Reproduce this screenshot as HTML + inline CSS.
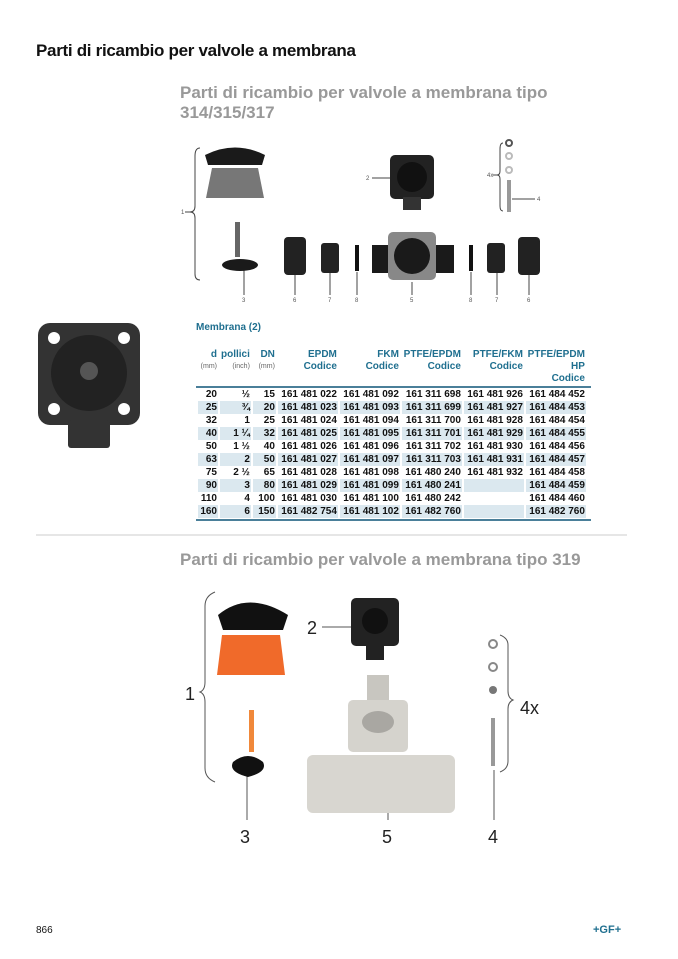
<!DOCTYPE html>
<html><head><meta charset="utf-8"><style>
body{margin:0;width:678px;height:959px;background:#fff;position:relative;overflow:hidden;font-family:"Liberation Sans",sans-serif}
.a{position:absolute;white-space:nowrap}
h1{position:absolute;left:36px;top:41px;margin:0;font-size:17px;letter-spacing:-0.3px;font-weight:bold;color:#111}
.sub{position:absolute;left:180px;margin:0;font-size:17px;font-weight:bold;color:#999;line-height:20px}
table{position:absolute;left:196px;top:349px;border-collapse:separate;border-spacing:2px 0;font-size:10px;font-weight:bold;color:#111}
td{height:13px;padding:0 1px;text-align:right;line-height:13px}
th{color:#1f6f8f;text-align:right;vertical-align:top;font-size:10px;line-height:12px;padding:0 1px 3px}
th small{display:block;color:#666;font-weight:normal;font-size:7px}
tr.s td{background:#dbe8ef}
.ln{position:absolute;left:196px;width:395px;height:2px;background:#4a7f99}
</style></head><body>
<h1>Parti di ricambio per valvole a membrana</h1>
<p class="sub" style="top:83px">Parti di ricambio per valvole a membrana tipo<br>314/315/317</p>
<div class="a" style="left:196px;top:322px;font-size:10px;font-weight:bold;color:#1f6f8f">Membrana (2)</div>

<svg class="a" style="left:0;top:0" width="678" height="959">
<g fill="none" stroke="#444" stroke-width="1">
<path d="M200 148 q-5 0 -5 8 v50 q0 6 -5 6 q5 0 5 6 v56 q0 6 5 6"/>
<line x1="185" y1="212" x2="190" y2="212"/>
<path d="M503 143 q-3 0 -3 6 v22 q0 4 -3 4 q3 0 3 4 v27 q0 5 3 5"/>
<line x1="493" y1="175" x2="497" y2="175"/>
<line x1="372" y1="178" x2="390" y2="178"/>
<line x1="512" y1="199" x2="535" y2="199"/>
<line x1="244" y1="270" x2="244" y2="295"/><line x1="295" y1="275" x2="295" y2="295"/>
<line x1="330" y1="273" x2="330" y2="295"/><line x1="357" y1="272" x2="357" y2="295"/>
<line x1="412" y1="282" x2="412" y2="295"/><line x1="471" y1="272" x2="471" y2="295"/>
<line x1="497" y1="273" x2="497" y2="295"/><line x1="529" y1="275" x2="529" y2="295"/>
</g>
<path d="M205 155 q30 -15 60 0 l-3 10 h-54z" fill="#1a1a1a"/>
<path d="M212 168 h46 l6 30 h-58z" fill="#777"/>
<rect x="235" y="222" width="5" height="35" fill="#666"/>
<ellipse cx="240" cy="265" rx="18" ry="6" fill="#1a1a1a"/>
<rect x="390" y="155" width="44" height="44" rx="5" fill="#222"/><rect x="403" y="197" width="18" height="13" fill="#333"/>
<circle cx="412" cy="177" r="15" fill="#111"/>
<circle cx="509" cy="143" r="3" fill="none" stroke="#555" stroke-width="2"/><circle cx="509" cy="156" r="3" fill="none" stroke="#bbb" stroke-width="2"/><circle cx="509" cy="170" r="3" fill="none" stroke="#bbb" stroke-width="2"/>
<rect x="507" y="180" width="4" height="32" fill="#999"/>
<rect x="284" y="237" width="22" height="38" rx="4" fill="#222"/>
<rect x="321" y="243" width="18" height="30" rx="3" fill="#222"/>
<rect x="355" y="245" width="4" height="26" fill="#111"/>
<rect x="372" y="245" width="22" height="28" fill="#1a1a1a"/><rect x="432" y="245" width="22" height="28" fill="#1a1a1a"/>
<rect x="388" y="232" width="48" height="48" rx="5" fill="#888"/><circle cx="412" cy="256" r="18" fill="#1a1a1a"/>
<rect x="469" y="245" width="4" height="26" fill="#111"/>
<rect x="487" y="243" width="18" height="30" rx="3" fill="#222"/>
<rect x="518" y="237" width="22" height="38" rx="4" fill="#222"/>
<rect x="38" y="323" width="102" height="102" rx="12" fill="#333"/>
<rect x="68" y="420" width="42" height="28" rx="3" fill="#333"/>
<circle cx="89" cy="373" r="38" fill="#222"/><circle cx="89" cy="371" r="9" fill="#555"/>
<circle cx="54" cy="338" r="6" fill="#fff"/><circle cx="124" cy="338" r="6" fill="#fff"/><circle cx="54" cy="409" r="6" fill="#fff"/><circle cx="124" cy="409" r="6" fill="#fff"/>
<line x1="36" y1="535" x2="627" y2="535" stroke="#ddd" stroke-width="1.5"/>
<g fill="none" stroke="#555" stroke-width="1">
<path d="M215 592 q-10 4 -10 14 v76 q0 8 -5 10 q5 2 5 10 v66 q0 10 10 14"/>
<path d="M500 635 q8 3 8 10 v46 q0 7 5 9 q-5 2 -5 9 v52 q0 8 -8 11"/>
<line x1="322" y1="627" x2="352" y2="627"/>
<line x1="247" y1="775" x2="247" y2="820"/><line x1="388" y1="790" x2="388" y2="820"/><line x1="494" y1="770" x2="494" y2="820"/>
</g>
<path d="M218 615 q30 -25 70 0 l-5 15 h-60z" fill="#111"/>
<path d="M222 635 h58 l5 40 h-68z" fill="#f06a2a"/>
<rect x="249" y="710" width="5" height="42" fill="#f0883a"/>
<path d="M233 762 q15 -12 30 0 q5 10 -15 15 q-20 -5 -15 -15z" fill="#111"/>
<rect x="351" y="598" width="48" height="48" rx="5" fill="#222"/><rect x="366" y="644" width="18" height="16" fill="#222"/>
<circle cx="375" cy="621" r="13" fill="#111"/>
<rect x="367" y="675" width="22" height="30" fill="#c8c6c0"/>
<rect x="348" y="700" width="60" height="52" rx="5" fill="#d5d3cd"/><ellipse cx="378" cy="722" rx="16" ry="11" fill="#a9a7a2"/>
<rect x="307" y="755" width="148" height="58" rx="6" fill="#d8d6d0"/>
<circle cx="493" cy="644" r="4" fill="none" stroke="#888" stroke-width="2"/><circle cx="493" cy="667" r="4" fill="none" stroke="#888" stroke-width="2"/><circle cx="493" cy="690" r="4" fill="#777"/>
<rect x="491" y="718" width="4" height="48" fill="#999"/>
<g font-family="Liberation Sans,sans-serif" font-size="18" fill="#222">
<text x="185" y="700">1</text><text x="307" y="634">2</text><text x="240" y="843">3</text><text x="488" y="843">4</text><text x="382" y="843">5</text><text x="520" y="714">4x</text>
</g>
<g font-family="Liberation Sans,sans-serif" font-size="6" fill="#555">
<text x="181" y="214">1</text><text x="366" y="180">2</text><text x="242" y="302">3</text><text x="537" y="201">4</text><text x="487" y="177">4x</text>
<text x="410" y="302">5</text><text x="293" y="302">6</text><text x="527" y="302">6</text><text x="328" y="302">7</text><text x="495" y="302">7</text><text x="355" y="302">8</text><text x="469" y="302">8</text>
</g>
</svg>

<table>
<tr><th style="width:18px">d<small>(mm)</small></th><th style="width:26px">pollici<small>(inch)</small></th><th style="width:21px">DN<small>(mm)</small></th><th style="width:58px">EPDM<br>Codice</th><th style="width:58px">FKM<br>Codice</th><th style="width:58px">PTFE/EPDM<br>Codice</th><th style="width:58px">PTFE/FKM<br>Codice</th><th style="width:58px">PTFE/EPDM<br>HP<br>Codice</th></tr>
<tr><td>20</td><td>½</td><td>15</td><td>161 481 022</td><td>161 481 092</td><td>161 311 698</td><td>161 481 926</td><td>161 484 452</td></tr>
<tr class="s"><td>25</td><td>¾</td><td>20</td><td>161 481 023</td><td>161 481 093</td><td>161 311 699</td><td>161 481 927</td><td>161 484 453</td></tr>
<tr><td>32</td><td>1</td><td>25</td><td>161 481 024</td><td>161 481 094</td><td>161 311 700</td><td>161 481 928</td><td>161 484 454</td></tr>
<tr class="s"><td>40</td><td>1 ¼</td><td>32</td><td>161 481 025</td><td>161 481 095</td><td>161 311 701</td><td>161 481 929</td><td>161 484 455</td></tr>
<tr><td>50</td><td>1 ½</td><td>40</td><td>161 481 026</td><td>161 481 096</td><td>161 311 702</td><td>161 481 930</td><td>161 484 456</td></tr>
<tr class="s"><td>63</td><td>2</td><td>50</td><td>161 481 027</td><td>161 481 097</td><td>161 311 703</td><td>161 481 931</td><td>161 484 457</td></tr>
<tr><td>75</td><td>2 ½</td><td>65</td><td>161 481 028</td><td>161 481 098</td><td>161 480 240</td><td>161 481 932</td><td>161 484 458</td></tr>
<tr class="s"><td>90</td><td>3</td><td>80</td><td>161 481 029</td><td>161 481 099</td><td>161 480 241</td><td></td><td>161 484 459</td></tr>
<tr><td>110</td><td>4</td><td>100</td><td>161 481 030</td><td>161 481 100</td><td>161 480 242</td><td></td><td>161 484 460</td></tr>
<tr class="s"><td>160</td><td>6</td><td>150</td><td>161 482 754</td><td>161 481 102</td><td>161 482 760</td><td></td><td>161 482 760</td></tr>
</table>
<div class="ln" style="top:386px"></div>
<div class="ln" style="top:519px"></div>

<p class="sub" style="top:550px">Parti di ricambio per valvole a membrana tipo 319</p>
<div class="a" style="left:36px;top:925px;font-size:10px;color:#111">866</div>
<div class="a" style="left:593px;top:924px;font-size:11px;font-weight:bold;color:#1f6f8f">+GF+</div>
</body></html>
